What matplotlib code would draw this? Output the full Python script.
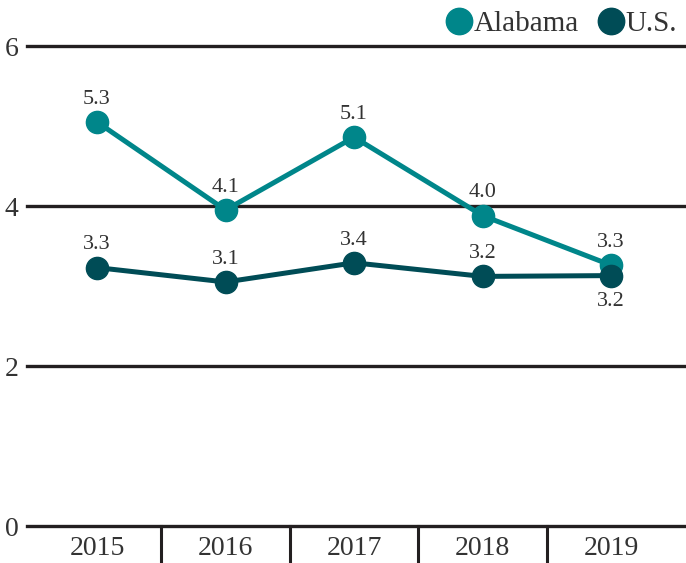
import matplotlib.pyplot as plt
from matplotlib.lines import Line2D
import matplotlib.transforms as mtransforms

years = ["2015", "2016", "2017", "2018", "2019"]
alabama = [5.05, 3.95, 4.86, 3.88, 3.26]
us = [3.23, 3.05, 3.29, 3.12, 3.13]
alabama_labels = ["5.3", "4.1", "5.1", "4.0", "3.3"]
us_labels = ["3.3", "3.1", "3.4", "3.2", "3.2"]
yticks = [0, 2, 4, 6]

teal = "#00868a"
dark = "#004c56"
grid = "#231f20"
font = "Liberation Serif"

plt.rcParams["font.family"] = font

fig = plt.figure(figsize=(6.86, 5.63), dpi=100)
ax = fig.add_axes([27 / 686, 1 - 526 / 563, 659 / 686, 480 / 563])

x = list(range(len(years)))
ax.set_xlim(-0.545, 4.583)
ax.set_ylim(0, 6)

for t in yticks:
    ax.axhline(t, color=grid, lw=2.4, zorder=1, clip_on=False)

ax.plot(x, alabama, color=teal, lw=3.6, marker="o", ms=16, zorder=3,
        clip_on=False)
ax.plot(x, us, color=dark, lw=3.6, marker="o", ms=16, zorder=4,
        clip_on=False)

# value labels, the last U.S. one goes below its point
for i in x:
    ax.annotate(alabama_labels[i], (i, alabama[i]), xytext=(0, 9.5),
                textcoords="offset points", ha="center", va="bottom",
                fontsize=16, color="#333333")
    if i == len(years) - 1:
        ax.annotate(us_labels[i], (i, us[i]), xytext=(0, -12),
                    textcoords="offset points", ha="center", va="top",
                    fontsize=16, color="#333333")
    else:
        ax.annotate(us_labels[i], (i, us[i]), xytext=(0, 9.5),
                    textcoords="offset points", ha="center", va="bottom",
                    fontsize=16, color="#333333")

ax.set_yticks(yticks)
ax.set_yticklabels([str(t) for t in yticks], fontsize=20, color="#333333")
ax.tick_params(axis="y", length=0, pad=6)
ax.set_xticks([])
for s in ax.spines.values():
    s.set_visible(False)

# category labels and dividers under the zero line
trans = mtransforms.blended_transform_factory(ax.transData, ax.transAxes)
for i in x:
    ax.text(i, -0.047, years[i], transform=trans, ha="center", va="center",
            fontsize=20, color="#333333")
for i in x[:-1]:
    ax.plot([i + 0.5, i + 0.5], [0, -0.08], transform=trans, color=grid,
            lw=2.2, clip_on=False)

handles = [
    Line2D([], [], color=teal, marker="o", ls="none", ms=19),
    Line2D([], [], color=dark, marker="o", ls="none", ms=19),
]
fig.legend(handles, ["Alabama", "U.S."], loc="upper right",
           bbox_to_anchor=(1.012, 1.012), ncol=2, frameon=False, fontsize=21,
           handletextpad=0.0, columnspacing=0.6, handlelength=1.0,
           borderaxespad=0.2, labelcolor="#333333")

fig.savefig("out.png", dpi=100)
